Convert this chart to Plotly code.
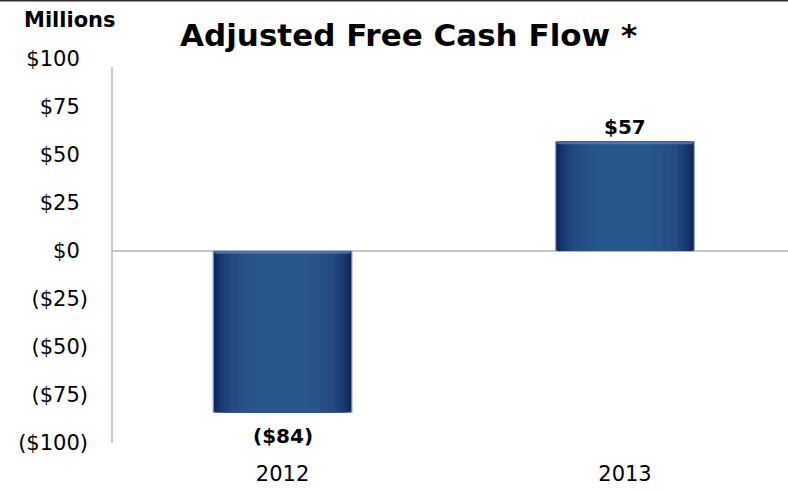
import plotly.graph_objects as go

years = ["2012", "2013"]
values = [-84, 57]
value_labels = ["($84)", "$57"]
tick_vals = [100, 75, 50, 25, 0, -25, -50, -75, -100]
tick_text = ["$100", "$75", "$50", "$25", "$0", "($25)", "($50)", "($75)", "($100)"]

FONT = "DejaVu Sans, Liberation Sans, Arial, sans-serif"
hid = "<span style='color:rgba(0,0,0,0)'>)</span>"
tick_text_fmt = [t if t.endswith(")") else t + hid for t in tick_text]

xpos = list(range(len(years)))
fig = go.Figure()

# gradient simulation: nested bars, dark at edges -> lighter at centre
layers = [
    (0.405, "#0e235b"),
    (0.394, "#112a63"),
    (0.38, "#15326b"),
    (0.362, "#1a3a73"),
    (0.34, "#1f427a"),
    (0.31, "#234a82"),
    (0.27, "#254f87"),
    (0.22, "#27538a"),
    (0.16, "#29568c"),
]
for i, (w, c) in enumerate(layers):
    fig.add_trace(go.Bar(
        x=xpos, y=values, width=w,
        marker=dict(color=c, line=dict(width=1.2 if i == 0 else 0, color="#8da2c4")),
        hoverinfo="skip", showlegend=False,
    ))

# bevel highlight on the upper edge of each bar
bevel = 1.4
fig.add_trace(go.Bar(
    x=xpos, y=[bevel for v in values],
    base=[v - bevel if v >= 0 else -bevel for v in values],
    width=0.395, marker=dict(color="rgba(90,130,190,0.75)", line=dict(width=0)),
    hoverinfo="skip", showlegend=False,
))

fig.update_layout(
    barmode="overlay",
    width=788, height=491,
    margin=dict(l=112, r=0, t=59, b=48),
    paper_bgcolor="white", plot_bgcolor="white",
    font=dict(family=FONT, color="#000000", size=21),
    xaxis=dict(range=[-0.498, 1.476], tickvals=xpos, ticktext=years,
               showgrid=False, zeroline=False, showline=False,
               ticks="", ticklabelstandoff=16,
               tickfont=dict(size=21, family=FONT)),
    yaxis=dict(range=[-100, 100], tickvals=tick_vals, ticktext=tick_text_fmt,
               showgrid=False, zeroline=False, showline=False,
               ticks="", ticklabelstandoff=23,
               tickfont=dict(size=21, family=FONT)),
    shapes=[
        dict(type="line", xref="paper", yref="y", x0=0, x1=1, y0=0, y1=0,
             line=dict(color="#8c8c8c", width=1.2), layer="below"),
        dict(type="line", xref="paper", yref="paper", x0=0, x1=0, y0=0, y1=0.979,
             line=dict(color="#b8b8b8", width=1.5)),
        dict(type="line", xref="paper", yref="paper", x0=-0.17, x1=1.0, y0=1.1525, y1=1.1525,
             line=dict(color="#303030", width=2)),
    ],
)

annotations = [
    dict(text="<b>Adjusted Free Cash Flow *</b>", xref="paper", yref="paper",
         x=0.439, y=1.0, yshift=24, xanchor="center", yanchor="middle",
         showarrow=False, font=dict(size=31, family=FONT, color="#000000")),
    dict(text="<b>Millions</b>", xref="paper", yref="paper",
         x=-0.0621, y=1.0, yshift=39, xanchor="center", yanchor="middle",
         showarrow=False, font=dict(size=21, family=FONT, color="#000000")),
]
for xv, v, lab in zip(xpos, values, value_labels):
    annotations.append(dict(
        text="<b>" + lab + "</b>", x=xv, y=v, xref="x", yref="y",
        yshift=15 if v >= 0 else -24, xanchor="center", yanchor="middle",
        showarrow=False, font=dict(size=20, family=FONT, color="#000000")))
fig.update_layout(annotations=annotations)

fig.write_html("out.html", config={"displayModeBar": False},
               post_script="document.body.style.margin='0';")
